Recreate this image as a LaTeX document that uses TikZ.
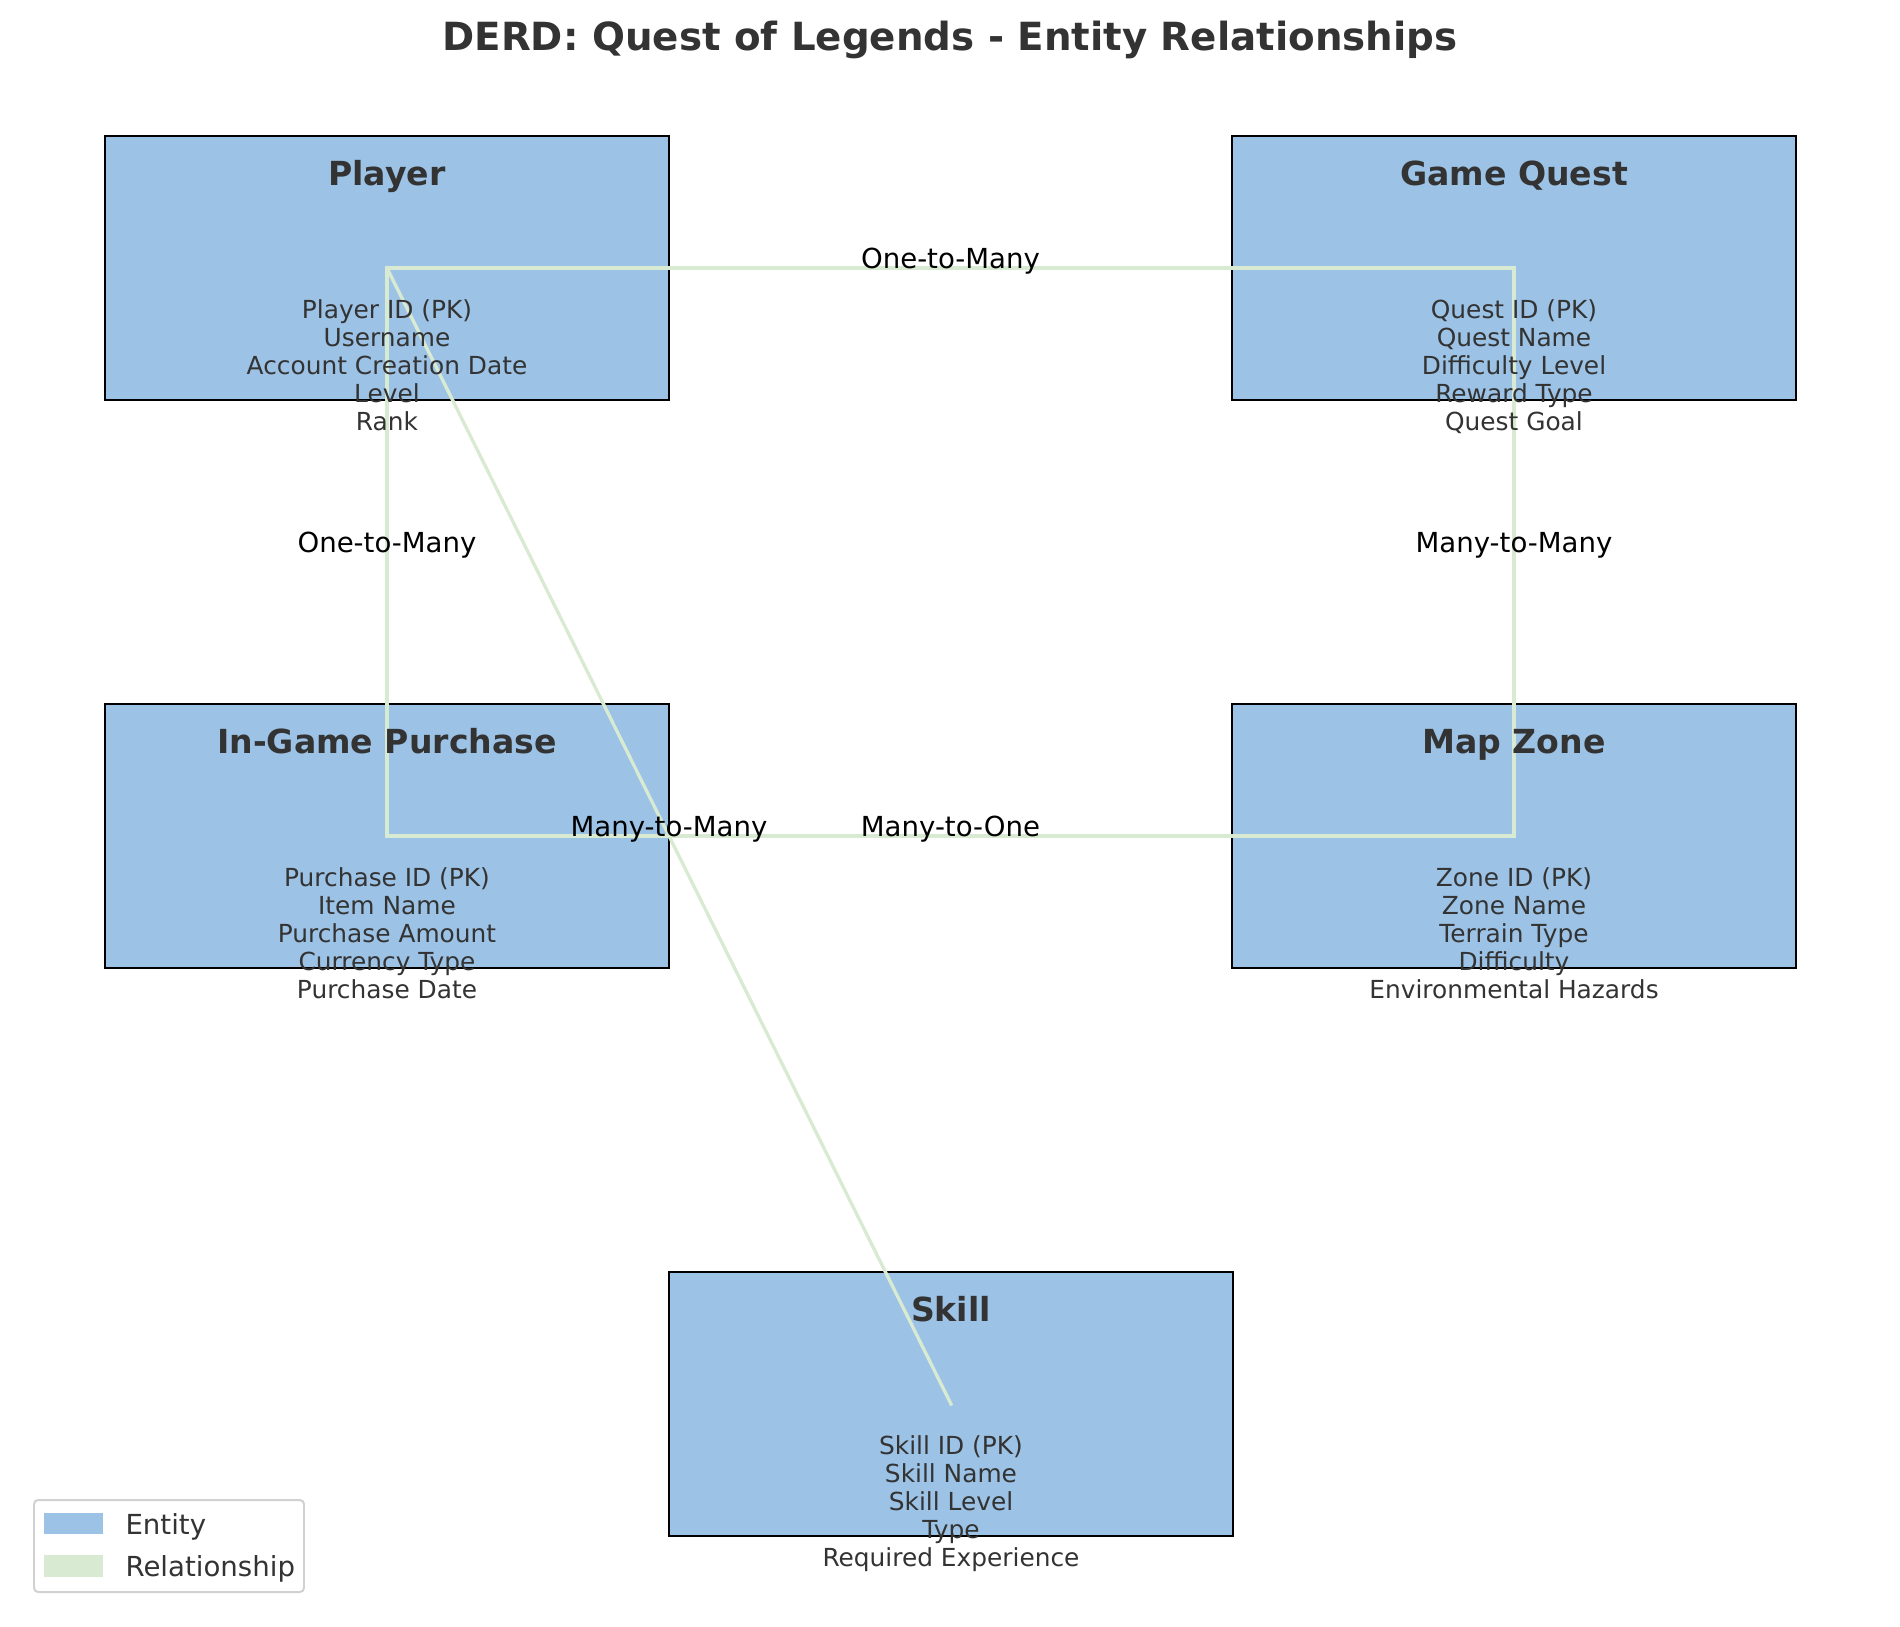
\documentclass[tikz,border=0pt]{standalone}
\usepackage{fontspec}
\setmainfont{DejaVu Sans}
\usetikzlibrary{calc}
\definecolor{entityblue}{HTML}{9CC2E6}
\definecolor{relgreen}{HTML}{D9EAD3}
\definecolor{inkgray}{HTML}{333333}
\tikzset{
	entity/.style={draw=black, fill=entityblue, line width=1pt, minimum width=204.3pt, minimum height=95.6pt, inner sep=0pt},
	etitle/.style={font=\fontsize{12}{14}\selectfont\bfseries, text=inkgray, anchor=base, inner sep=0pt},
	attr/.style={font=\fontsize{9}{10}\selectfont, text=inkgray, anchor=base, inner sep=0pt},
	rel/.style={draw=relgreen, line width=1.2pt, line cap=rect},
	rellabel/.style={font=\fontsize{10}{12}\selectfont, anchor=base, inner sep=0pt},
	legendtext/.style={font=\fontsize{10}{12}\selectfont, text=inkgray, anchor=base west, inner sep=0pt}
}
\def\fields#1#2#3{
	\node[etitle] (#1-title) at ($(#1.north)+(0,50.5)$) {#2};
	\foreach \a [count=\i] in {#3}
		\node[attr] (#1-a\i) at ($(#1.north)+(0,{183.5+28*(\i-1)})$) {\a};
}
\begin{document}
\begin{tikzpicture}[x=0.3623pt, y=-0.3623pt]
			%%%%% START %%%%%
			\useasboundingbox (0,0) rectangle (1900,1626);
			
			\node[etitle, font=\fontsize{14.05}{17}\selectfont\bfseries] (title) at (950,50) {DERD: Quest of Legends - Entity Relationships};
			
			\node[entity] (player) at (387,268) {};
			\node[entity] (quest) at (1514,268) {};
			\node[entity] (purchase) at (387,836) {};
			\node[entity] (zone) at (1514,836) {};
			\node[entity] (skill) at (951,1404) {};
			
			\draw[rel] (player.center) -- (quest.center);
			\draw[rel] (player.center) -- (purchase.center);
			\draw[rel] (quest.center) -- (zone.center);
			\draw[rel] (purchase.center) -- (zone.center);
			\draw[rel] (player.center) -- (skill.center);
			
			\path (player.center) -- (quest.center) node[rellabel, midway] (pq-label) {One-to-Many};
			\path (player.center) -- (purchase.center) node[rellabel, midway] (pp-label) {One-to-Many};
			\path (quest.center) -- (zone.center) node[rellabel, midway] (qz-label) {Many-to-Many};
			\path (purchase.center) -- (zone.center) node[rellabel, midway] (pz-label) {Many-to-One};
			\path (player.center) -- (skill.center) node[rellabel, midway] (ps-label) {Many-to-Many};
			
			\fields{player}{Player}{Player ID (PK), Username, Account Creation Date, Level, Rank}
			\fields{quest}{Game Quest}{Quest ID (PK), Quest Name, Difficulty Level, Reward Type, Quest Goal}
			\fields{purchase}{In-Game Purchase}{Purchase ID (PK), Item Name, Purchase Amount, Currency Type, Purchase Date}
			\fields{zone}{Map Zone}{Zone ID (PK), Zone Name, Terrain Type, Difficulty, Environmental Hazards}
			\fields{skill}{Skill}{Skill ID (PK), Skill Name, Skill Level, Type, Required Experience}
			
			% legend
			\draw[draw=black!18, line width=0.72pt, rounded corners=1.5pt, fill=white] (34,1500) rectangle (304,1592);
			\fill[entityblue] (44,1513) rectangle (103,1534);
			\fill[relgreen] (44,1555) rectangle (103,1577);
			\node[legendtext] (leg-entity) at (125,1534) {Entity};
			\node[legendtext] (leg-rel) at (125,1576) {Relationship};
			
			%%%%% END %%%%%
\end{tikzpicture}
\end{document}
